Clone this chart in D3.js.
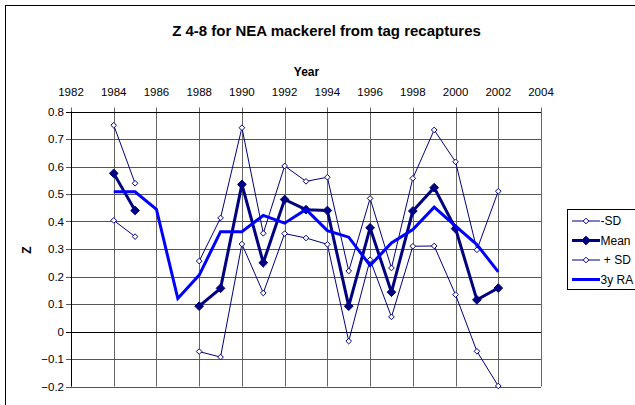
<!DOCTYPE html>
<html>
<head>
<meta charset="utf-8">
<script src="https://cdn.jsdelivr.net/npm/d3@7"></script>
<style>
  body { margin: 0; background: #fff; }
  svg { display: block; font-family: "Liberation Sans", Arial, sans-serif; }
</style>
</head>
<body>
<svg id="chart" width="635" height="405"></svg>
<script>
// values
const years = [1984, 1985, 1986, 1987, 1988, 1989, 1990, 1991, 1992, 1993,
               1994, 1995, 1996, 1997, 1998, 1999, 2000, 2001, 2002];
const minusSD = [0.404, 0.345, null, null, -0.073, -0.093, 0.318, 0.14, 0.356, 0.34,
                 0.317, -0.035, 0.261, 0.053, 0.31, 0.311, 0.134, -0.072, -0.198];
const mean = [0.575, 0.44, null, null, 0.092, 0.157, 0.535, 0.25, 0.48, 0.443,
              0.44, 0.092, 0.377, 0.143, 0.438, 0.523, 0.374, 0.115, 0.158];
const plusSD = [0.75, 0.539, null, null, 0.256, 0.413, 0.741, 0.357, 0.602, 0.546,
                0.561, 0.22, 0.484, 0.231, 0.557, 0.733, 0.617, 0.297, 0.51];
const ra3y = [0.508, 0.508, 0.444, 0.12, 0.205, 0.363, 0.363, 0.422, 0.394, 0.444,
              0.367, 0.343, 0.24, 0.322, 0.371, 0.452, 0.383, 0.316, 0.217];
const yearTicks = d3.range(1982, 2005, 2);
const zTicks = [-0.2, -0.1, 0, 0.1, 0.2, 0.3, 0.4, 0.5, 0.6, 0.7, 0.8];

const svg = d3.select('#chart');
const plotLeft = 71, plotRight = 541, plotTop = 111.5, plotBottom = 386.5;

let x = d3.scaleLinear().domain([1982, 2004]).range([plotLeft, plotRight]);
let y = d3.scaleLinear().domain([-0.2, 0.8]).range([plotBottom, plotTop]);

// outer chart border
svg.append('rect')
    .attr('x', 5.5).attr('y', 5.5)
    .attr('width', 700).attr('height', 500)
    .attr('fill', '#fff')
    .attr('stroke', '#000');

// title and axis titles
svg.append('text')
    .attr('x', 326.5).attr('y', 35.5)
    .attr('text-anchor', 'middle')
    .style('font-size', '15px').style('font-weight', 'bold')
    .text('Z 4-8 for NEA mackerel from tag recaptures');

svg.append('text')
    .attr('x', 306.5).attr('y', 76)
    .attr('text-anchor', 'middle')
    .style('font-size', '12px').style('font-weight', 'bold')
    .text('Year');

svg.append('text')
    .attr('transform', 'translate(31 250) rotate(-90)')
    .attr('text-anchor', 'middle')
    .style('font-size', '12px').style('font-weight', 'bold')
    .text('Z');

// grid
let grid = svg.append('g');
grid.selectAll('.vg')
    .data(yearTicks)
    .enter()
    .append('line')
    .attr('x1', d => Math.round(x(d)) + 0.5).attr('x2', d => Math.round(x(d)) + 0.5)
    .attr('y1', plotTop - 4).attr('y2', plotBottom)
    .attr('stroke', '#666');

grid.selectAll('.hg')
    .data(zTicks)
    .enter()
    .append('line')
    .attr('x1', plotLeft - 5).attr('x2', plotRight)
    .attr('y1', d => Math.round(y(d)) + 0.5).attr('y2', d => Math.round(y(d)) + 0.5)
    .attr('stroke', d => (d === 0 || d === 0.8) ? '#000' : '#555');

// y axis line
svg.append('line')
    .attr('x1', plotLeft + 0.5).attr('x2', plotLeft + 0.5)
    .attr('y1', plotTop).attr('y2', plotBottom)
    .attr('stroke', '#000');

// tick labels
svg.append('g').selectAll('text')
    .data(zTicks)
    .enter()
    .append('text')
    .attr('x', 64)
    .attr('y', d => y(d))
    .attr('dy', '0.35em')
    .attr('text-anchor', 'end')
    .style('font-size', '11.5px')
    .text(d => d3.format('')(+d.toFixed(1)));

svg.append('g').selectAll('text')
    .data(yearTicks)
    .enter()
    .append('text')
    .attr('x', d => x(d))
    .attr('y', 96)
    .attr('text-anchor', 'middle')
    .style('font-size', '11.5px')
    .text(d => d);

// series
const series = [
    { name: '-SD', values: minusSD, color: '#000080', width: 1, marker: 'open' },
    { name: 'Mean', values: mean, color: '#000080', width: 3, marker: 'filled' },
    { name: ' + SD', values: plusSD, color: '#000080', width: 1, marker: 'open' },
    { name: '3y RA', values: ra3y, color: '#0000ff', width: 3, marker: 'none' }
];

let line = d3.line()
    .defined(d => d.v !== null)
    .x(d => x(d.year))
    .y(d => y(d.v));

// square diamond like the spreadsheet markers
const squareDiamond = {
    draw(context, size) {
        let r = Math.sqrt(size / 2);
        context.moveTo(0, -r);
        context.lineTo(r, 0);
        context.lineTo(0, r);
        context.lineTo(-r, 0);
        context.closePath();
    }
};
let openDiamond = d3.symbol().type(squareDiamond).size(16);
let filledDiamond = d3.symbol().type(squareDiamond).size(38);

for (let s of series) {
    let pts = years.map((yr, i) => ({ year: yr, v: s.values[i] }));
    let g = svg.append('g');
    g.append('path')
        .datum(pts)
        .attr('d', line)
        .attr('fill', 'none')
        .attr('stroke', s.color)
        .attr('stroke-width', s.width)
        .attr('stroke-linejoin', 'miter');

    if (s.marker !== 'none') {
        g.selectAll('path.m')
            .data(pts.filter(d => d.v !== null))
            .enter()
            .append('path')
            .attr('class', 'm')
            .attr('transform', d => `translate(${x(d.year)},${y(d.v)})`)
            .attr('d', s.marker === 'open' ? openDiamond : filledDiamond)
            .attr('fill', s.marker === 'open' ? '#fff' : s.color)
            .attr('stroke', s.color)
            .attr('stroke-width', 1);
    }
}

// legend
let legend = svg.append('g');
legend.append('rect')
    .attr('x', 567.5).attr('y', 209.5)
    .attr('width', 100).attr('height', 80)
    .attr('fill', '#fff')
    .attr('stroke', '#000');

let legY = [221, 240.5, 260, 279.5];
series.forEach((s, i) => {
    legend.append('line')
        .attr('x1', 572).attr('x2', 600)
        .attr('y1', legY[i]).attr('y2', legY[i])
        .attr('stroke', s.color)
        .attr('stroke-width', s.width);
    if (s.marker !== 'none') {
        legend.append('path')
            .attr('transform', `translate(586,${legY[i]})`)
            .attr('d', s.marker === 'open' ? openDiamond : filledDiamond)
            .attr('fill', s.marker === 'open' ? '#fff' : s.color)
            .attr('stroke', s.color);
    }
    legend.append('text')
        .attr('x', 600.5)
        .attr('y', legY[i])
        .attr('dy', '0.35em')
        .style('font-size', '12px')
        .style('white-space', 'pre')
        .attr('xml:space', 'preserve')
        .text(s.name);
});
</script>
</body>
</html>
